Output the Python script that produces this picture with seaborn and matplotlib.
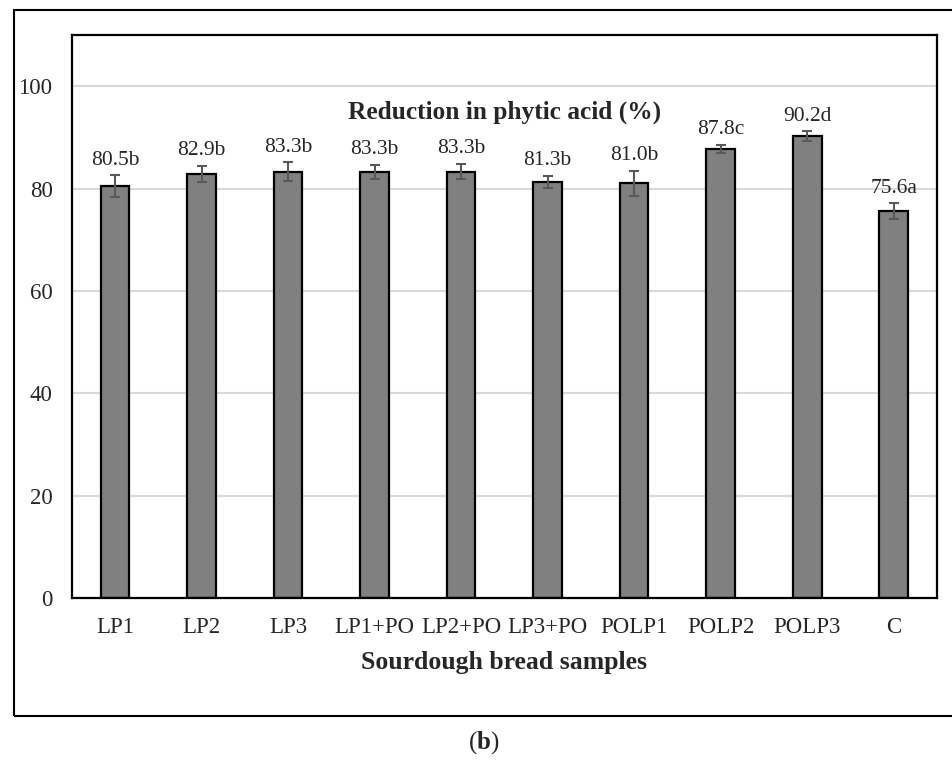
import numpy as np
import pandas as pd
import matplotlib
matplotlib.use("Agg")
import matplotlib.pyplot as plt
import seaborn as sns
from matplotlib.patches import Rectangle


# ----------------------------
# Data
# ----------------------------

samples = ["LP1", "LP2", "LP3", "LP1+PO", "LP2+PO", "LP3+PO",
           "POLP1", "POLP2", "POLP3", "C"]
reduction = [80.5, 82.9, 83.3, 83.3, 83.3, 81.3, 81.0, 87.8, 90.2, 75.6]
sd = [2.1, 1.6, 1.8, 1.35, 1.5, 1.2, 2.5, 0.8, 1.0, 1.5]
letters = ["b", "b", "b", "b", "b", "b", "b", "c", "d", "a"]

df = pd.DataFrame({"sample": samples, "reduction": reduction, "sd": sd})


# ----------------------------
# Style
# ----------------------------

sns.set_style("white")
plt.rcParams["font.family"] = ["Liberation Serif", "DejaVu Serif"]
plt.rcParams["mathtext.fontset"] = "custom"
plt.rcParams["mathtext.rm"] = "Liberation Serif"
plt.rcParams["mathtext.bf"] = "Liberation Serif:bold"


# ----------------------------
# Plot
# ----------------------------

fig = plt.figure(figsize=(9.53, 7.6), dpi=100)
ax = fig.add_axes([0.0755, 0.2132, 0.9077, 0.7407])

sns.barplot(data=df, x="sample", y="reduction", order=samples,
            color="#808080", saturation=1, width=0.33,
            edgecolor="black", linewidth=1.6, errorbar=None, ax=ax)

xpos = np.arange(len(samples))
ax.errorbar(xpos, df["reduction"], yerr=df["sd"], fmt="none",
            ecolor="#595959", elinewidth=1.5, capsize=3.5, capthick=1.5,
            zorder=5)

for x, v, s, l in zip(xpos, reduction, sd, letters):
    ax.annotate(f"{v:.1f}{l}", xy=(x, v + s), xytext=(0, 4),
                textcoords="offset points", ha="center", va="bottom",
                fontsize=15.5)

ax.set_ylim(0, 110)
ax.set_xlim(-0.5, len(samples) - 0.5)
ax.set_yticks([0, 20, 40, 60, 80, 100])
ax.yaxis.grid(True, color="#d9d9d9", linewidth=1.5)
ax.set_axisbelow(True)
ax.tick_params(axis="both", length=0, labelsize=16.5)
ax.tick_params(axis="x", pad=14)
ax.tick_params(axis="y", pad=14)

for sp in ax.spines.values():
    sp.set_color("black")
    sp.set_linewidth(1.6)

ax.set_ylabel("")
ax.set_xlabel("Sourdough bread samples", fontsize=18.5, fontweight="bold",
              labelpad=9)

ax.text(0.5, 0.863, "Reduction in phytic acid (%)", transform=ax.transAxes,
        ha="center", va="center", fontsize=18.3, fontweight="bold")

# outer frame of the chart
fig.patches.append(Rectangle((14 / 953, 44 / 760), 1.0, 706 / 760,
                             transform=fig.transFigure, fill=False,
                             edgecolor="black", linewidth=1.5))

fig.text(484 / 953, 1 - 743 / 760, r"($\mathbf{b}$)", ha="center",
         va="center", fontsize=18)

fig.savefig("out.png", dpi=100)
plt.close(fig)
